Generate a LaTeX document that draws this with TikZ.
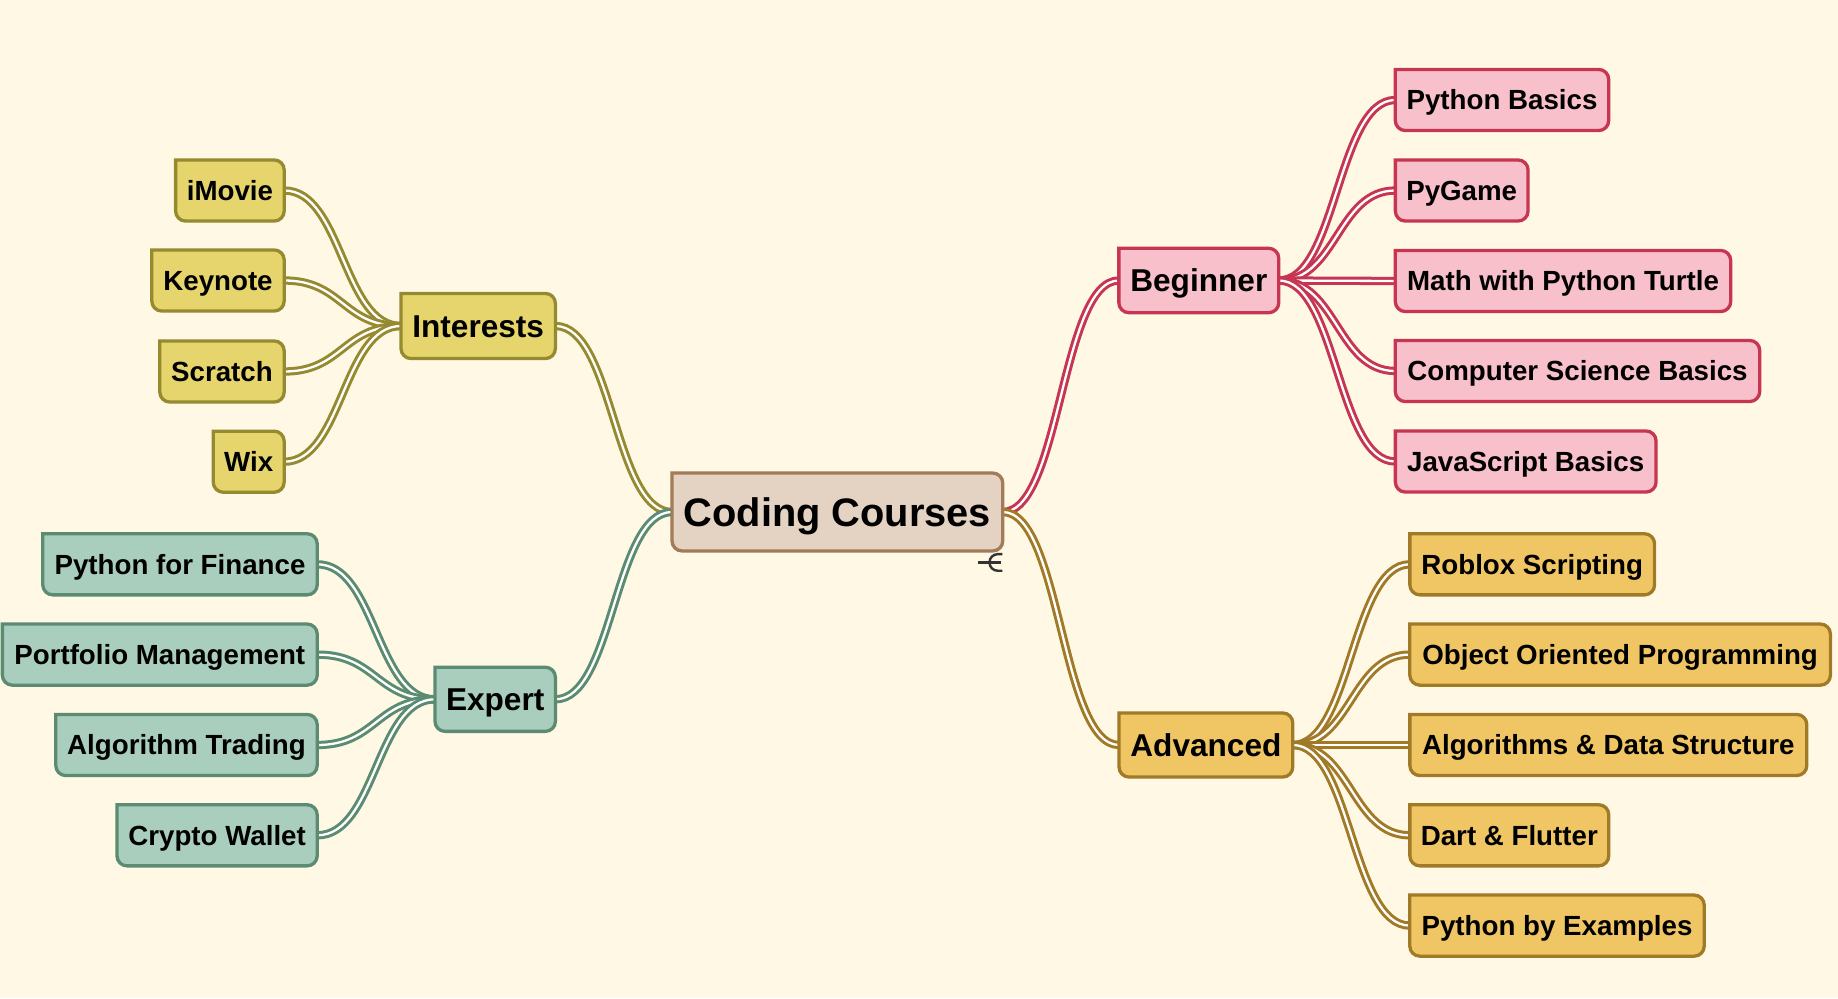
\documentclass[tikz,border=0pt]{standalone}
\usepackage{fontspec}
\setmainfont{Liberation Sans}
\usetikzlibrary{calc}
\definecolor{bg}{HTML}{FFF8E4}
\definecolor{rootf}{HTML}{E4D3C3}
\definecolor{rootd}{HTML}{A37B57}
\definecolor{ylf}{HTML}{E5D56C}
\definecolor{yld}{HTML}{968A30}
\definecolor{grf}{HTML}{AACEBD}
\definecolor{grd}{HTML}{5B8C72}
\definecolor{pkf}{HTML}{F8C0CA}
\definecolor{pkd}{HTML}{C63552}
\definecolor{gdf}{HTML}{F0C665}
\definecolor{gdd}{HTML}{A17A27}
\definecolor{icon}{HTML}{333333}
\pgfdeclarelayer{back}
\pgfdeclarelayer{boxes}
\pgfsetlayers{back,boxes,main}
\tikzset{
  wh/.style 2 args={minimum width=#1pt, minimum height=#2pt},
  mm/.style={inner sep=0pt, draw=none, fill=none, text=black, align=center},
  leaf/.style={mm, font=\bfseries\fontsize{27.7}{33}\selectfont, text height=19.8pt, text depth=0pt},
  sec/.style={mm, font=\bfseries\fontsize{31.6}{38}\selectfont, text height=22.6pt, text depth=0pt},
  rootn/.style={mm, font=\bfseries\fontsize{39.8}{48}\selectfont, text height=28.5pt, text depth=0pt},
  link/.style={line width=3pt, double=white, double distance=2.3pt, draw=#1},
  boxline/.style={line width=3.3pt},
}
\newcommand\mmbox[3]{%
  \path[boxline, fill=#2, draw=#3] (#1.north west) -- ([xshift=-10pt]#1.north east)
    arc[start angle=90, end angle=0, radius=10pt] -- ([yshift=10pt]#1.south east)
    arc[start angle=0, end angle=-90, radius=10pt] -- ([xshift=10pt]#1.south west)
    arc[start angle=270, end angle=180, radius=10pt] -- cycle;}
\newcommand\mmlink[3]{%
  \draw[link=#1] let \p1=(#2.east), \p2=(#3.west), \n1={(\x2-\x1)/2} in
    (\p1) .. controls +(\n1,0) and +(-\n1,0) .. (\p2);}
\begin{document}
\begin{tikzpicture}[x=1pt, y=-1pt]
\begin{pgfonlayer}{back}
  \fill[bg] (0,0) rectangle (1838,998);
\end{pgfonlayer}
\useasboundingbox (0,0) rectangle (1838,998);

% root and sections
\node[rootn, wh={330.3}{77.5}] (root) at (837.4,512) {Coding Courses};
\node[sec, wh={154}{64.7}] (interests) at (478.2,326) {Interests};
\node[sec, wh={120}{63.7}] (expert) at (495.2,699.3) {Expert};
\node[sec, wh={159.5}{64}] (beginner) at (1198.8,280.5) {Beginner};
\node[sec, wh={173.3}{63.7}] (advanced) at (1205.9,745) {Advanced};

% interests leaves
\node[leaf, wh={108.2}{60.7}] (imovie) at (229.9,190.5) {iMovie};
\node[leaf, wh={132}{60.7}] (keynote) at (218,280.5) {Keynote};
\node[leaf, wh={124}{60.7}] (scratch) at (222,371.5) {Scratch};
\node[leaf, wh={70.5}{60.7}] (wix) at (248.7,461.7) {Wix};

% expert leaves
\node[leaf, wh={274}{60.7}] (pff) at (180,564.3) {Python for Finance};
\node[leaf, wh={314.5}{60.7}] (pm) at (159.8,654.6) {Portfolio Management};
\node[leaf, wh={261}{60.7}] (algt) at (186.5,745) {Algorithm Trading};
\node[leaf, wh={199.8}{60.7}] (cw) at (217.1,835.3) {Crypto Wallet};

% beginner leaves
\node[leaf, wh={213}{60.7}] (pb) at (1502,100) {Python Basics};
\node[leaf, wh={132.3}{60.7}] (pg) at (1461.7,190.5) {PyGame};
\node[leaf, wh={335}{60.7}] (math) at (1563,281) {Math with Python Turtle};
\node[leaf, wh={364}{60.7}] (cs) at (1577.5,371) {Computer Science Basics};
\node[leaf, wh={260.3}{60.7}] (js) at (1525.7,461.5) {JavaScript Basics};

% advanced leaves
\node[leaf, wh={244.3}{60.7}] (rs) at (1532.2,564.3) {Roblox Scripting};
\node[leaf, wh={420.2}{60.7}] (oop) at (1620.1,654.6) {Object Oriented Programming};
\node[leaf, wh={396.5}{60.7}] (ads) at (1608.3,745) {Algorithms \& Data Structure};
\node[leaf, wh={198.5}{60.7}] (df) at (1509.3,835.3) {Dart \& Flutter};
\node[leaf, wh={294}{60.7}] (pbe) at (1557,925.6) {Python by Examples};

\begin{pgfonlayer}{back}
  \mmlink{yld}{interests}{root}
  \mmlink{grd}{expert}{root}
  \mmlink{pkd}{root}{beginner}
  \mmlink{gdd}{root}{advanced}
  \foreach \c in {imovie,keynote,scratch,wix} {\mmlink{yld}{\c}{interests}}
  \foreach \c in {pff,pm,algt,cw} {\mmlink{grd}{\c}{expert}}
  \foreach \c in {pb,pg,math,cs,js} {\mmlink{pkd}{beginner}{\c}}
  \foreach \c in {rs,oop,ads,df,pbe} {\mmlink{gdd}{advanced}{\c}}
\end{pgfonlayer}

\begin{pgfonlayer}{boxes}
  \mmbox{root}{rootf}{rootd}
  \foreach \c in {interests,imovie,keynote,scratch,wix} {\mmbox{\c}{ylf}{yld}}
  \foreach \c in {expert,pff,pm,algt,cw} {\mmbox{\c}{grf}{grd}}
  \foreach \c in {beginner,pb,pg,math,cs,js} {\mmbox{\c}{pkf}{pkd}}
  \foreach \c in {advanced,rs,oop,ads,df,pbe} {\mmbox{\c}{gdf}{gdd}}
\end{pgfonlayer}

% small icon below the root node
\coordinate (ic) at ($(root.south east)+(-5,11.5)$);
\draw[icon, line width=2.4pt] ($(ic)+(-19.5,0)$) -- ($(ic)+(3,0)$);
\draw[icon, line width=2.4pt] ($(ic)+(4.5,-8.3)$) -- ($(ic)+(0,-8.3)$)
  arc[start angle=90, end angle=270, radius=8.3pt] -- ($(ic)+(4.5,8.3)$);
\end{tikzpicture}
\end{document}
